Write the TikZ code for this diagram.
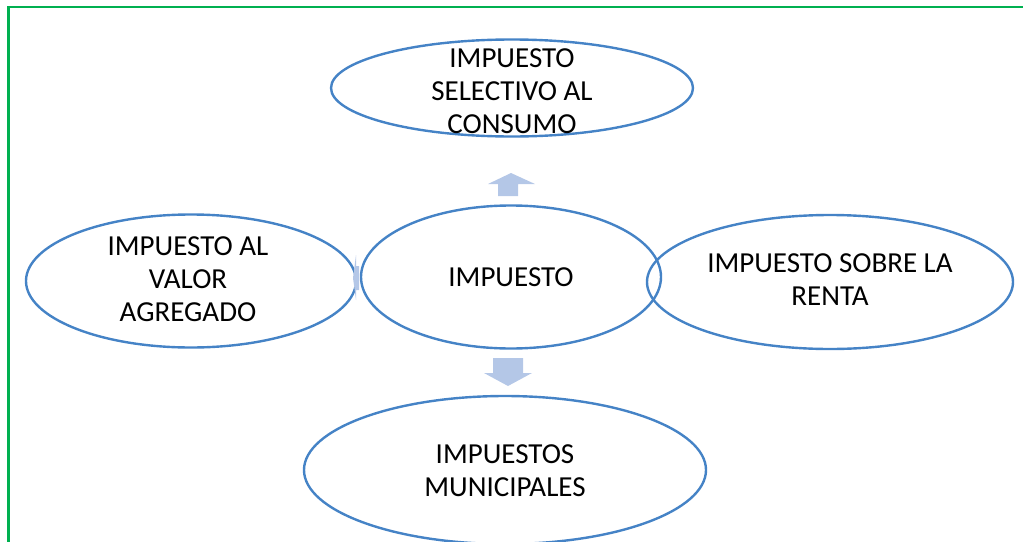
\documentclass[tikz,border=0pt]{standalone}
\usepackage{fontspec}
\setmainfont{Carlito}
\usepackage{xcolor}
\usetikzlibrary{shapes}

\definecolor{rim}{HTML}{4583C6}
\definecolor{pale}{HTML}{B4C7E7}
\definecolor{frame}{HTML}{00B050}

\begin{document}
\begin{tikzpicture}[x=1pt,y=-1pt]

	\tikzstyle{tax}=[ellipse,draw=rim,line width=2.4pt,inner sep=0pt]
	\tikzstyle{word}=[align=center,font=\fontsize{29}{33}\selectfont]
	\tikzstyle{block}=[fill=pale,draw=none]

	\useasboundingbox (0,0) rectangle (1023,541);
	\begin{scope}
	\clip (0,0) rectangle (1023,541);
	% frame
	\draw[frame,line width=2.4pt] (8.5,545) -- (8.5,7) -- (1030,7);

	% ellipses
	\node[tax,minimum width=362pt,minimum height=97pt] (sel) at (512,88) {};
	\node[tax,minimum width=330pt,minimum height=133pt] (iva) at (191,281) {};
	\node[tax,minimum width=300pt,minimum height=143pt] (imp) at (511,277) {};
	\node[tax,minimum width=366pt,minimum height=134pt] (ren) at (830,282) {};
	\node[tax,minimum width=402pt,minimum height=148pt] (mun) at (505,470) {};

	% labels
	\node[word] (tsel) at (512,91) {IMPUESTO\\SELECTIVO AL\\CONSUMO};
	\node[word] (tiva) at (188,279) {IMPUESTO AL\\VALOR\\AGREGADO};
	\node[word] (timp) at (imp) {IMPUESTO};
	\node[word] (tren) at (830,280) {IMPUESTO SOBRE LA\\RENTA};
	\node[word] (tmun) at (505,471) {IMPUESTOS\\MUNICIPALES};

	% block arrows
	\fill[block] (511,173) -- (535,184) -- (518,184) -- (518,196)
		-- (498,196) -- (498,184) -- (488,184) -- cycle;
	\fill[block] (493,358) -- (523,358) -- (523,373) -- (532,373)
		-- (508,386) -- (484,373) -- (493,373) -- cycle;
	\fill[block] (353,278) -- (356,255) -- (356,266) -- (359,266)
		-- (359,290) -- (356,290) -- (356,300) -- cycle;
	\end{scope}

\end{tikzpicture}
\end{document}
